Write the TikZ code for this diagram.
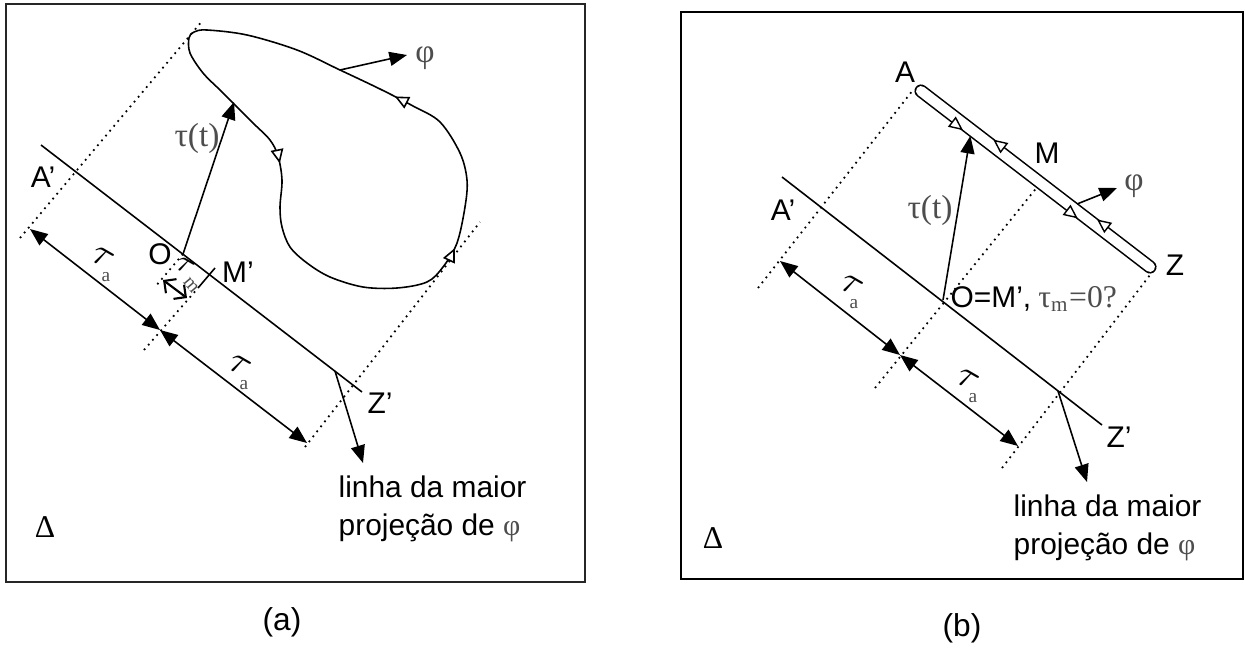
\documentclass[tikz,border=0pt]{standalone}
\usepackage{fontspec}
\setmainfont{Liberation Sans}
\newfontfamily\tms{Liberation Serif}
\usetikzlibrary{arrows.meta,calc,decorations.markings}
\definecolor{labelgray}{HTML}{4D4D4D}

\begin{document}
\begin{tikzpicture}[x=0.01cm,y=-0.01cm,font=\fontsize{8.5}{10.8}\selectfont,
    frame/.style={draw=black!85,line width=.6pt},
    axis/.style={line width=.45pt},
    proj/.style={line width=.5pt,dash pattern=on .5pt off 1.3pt},
    span/.style={line width=.45pt,{Triangle[length=5pt,width=4pt]}-{Triangle[length=5pt,width=4pt]}},
    vec/.style={line width=.45pt,-{Triangle[length=5pt,width=4pt]}},
    serif/.style={font=\fontsize{9.5}{10}\selectfont\tms,text=labelgray},
    dur/.style={inner sep=0pt,rotate=-30,font=\fontsize{10.5}{10}\selectfont},
    sub/.style={inner sep=0pt,font=\fontsize{5.5}{6}\selectfont\tms,text=labelgray},
    flowmarks/.style={decorate,decoration={markings,
        mark=at position #1 with {\arrow{Triangle[fill=white,length=4pt,width=3.6pt]}}}}]

  \useasboundingbox (0,0) rectangle (1245,648);

  % (a) closed trajectory
  \draw[frame] (6,4) rectangle (585,582);
  \draw[proj] (20,238) -- (203,20);
  \draw[proj] (144,350) -- (198,288);
  \draw[proj] (183,254) -- (155,287);
  \draw[proj] (305,447) -- (480,222);
  \coordinate (Aa1) at (41,145);
  \coordinate (Za1) at (362,392);
  \coordinate (Oa1) at (183,254);
  \coordinate (hita) at (234,102);
  \coordinate (phia0) at (340,70);
  \coordinate (zfa) at (335,371);
  \draw[axis] (Aa1) -- (Za1);
  \draw[axis] (198,288) -- (215,268);
  \draw[axis,postaction={flowmarks=.17},postaction={flowmarks=.50},postaction={flowmarks=.72}]
    plot[smooth cycle,tension=.55] coordinates {(189,38) (190,53) (203,73) (220,90) (233,103)
      (253,123) (270,140) (278,156) (282,180) (280,207) (282,227) (290,247) (307,263)
      (330,277) (363,287) (397,288) (427,282) (443,267) (457,243) (465,207) (467,180)
      (460,153) (440,122) (413,106) (380,89) (340,70) (297,50) (247,35) (207,30) (194,32)};
  \draw[vec] (Oa1) -- (hita);
  \draw[vec] (phia0) -- (407,55);
  \draw[vec] (zfa) -- (363,463);
  \draw[span] (30,229) -- (160,330);
  \draw[span] (160,330) -- (307,443);
  \draw[line width=.6pt,{Straight Barb[length=2.5pt]}-{Straight Barb[length=2.5pt]}] (163,280) -- (187,298);

  \node[serif] (phia) at (425,58) {φ};
  \node[serif] (tta) at (197,138) {τ(t)};
  \node (Aa) at (43,177) {A’};
  \node[inner sep=0pt] (Oa) at (160,254) {O};
  \node[anchor=west,inner sep=1pt] (Ma) at (218,272) {M’};
  \node (Za) at (380,403) {Z’};
  \node[dur] (taua1) at (103,258) {$\tau$};
  \node[sub] (taua1s) at (106,277) {a};
  \node[dur] (taua2) at (240,366) {$\tau$};
  \node[sub] (taua2s) at (244,385) {a};
  \node[dur,font=\fontsize{9}{9}\selectfont] (taum) at (185,266) {$\tau$};
  \node[sub,rotate=-50] (taums) at (191,285) {m};
  \node[align=left,anchor=west,inner sep=0pt] (capa) at (338,509) {linha da maior\\projeção de {\tms\color{labelgray}φ}};
  \node[font=\fontsize{9}{9}\selectfont\tms] (dela) at (45,527) {Δ};
  \node[font=\fontsize{9}{9}\selectfont] (laba) at (282,622) {(a)};

  % (b) degenerate trajectory
  \draw[frame,draw=black] (681,12) rectangle (1243,579);
  \draw[proj] (758,288) -- (913,90);
  \draw[proj] (875,388) -- (1038,186);
  \draw[proj] (1002,468) -- (1150,275);
  \coordinate (Ab1) at (782,177);
  \coordinate (Zb1) at (1102,425);
  \coordinate (Ob1) at (943,300);
  \coordinate (zfb) at (1058,391);
  \coordinate (C1) at (921,91);
  \coordinate (C2) at (1150,267);
  \coordinate (U1) at (924.3,86.6);
  \coordinate (U2) at (1153.3,262.6);
  \coordinate (L1) at (917.7,95.4);
  \coordinate (L2) at (1146.7,271.4);
  \draw[axis] (Ab1) -- (Zb1);
  \draw[line width=.45pt,double,double distance=.1cm,line cap=round] (C1) -- (C2);
  \path[flowmarks=.198] (L1) -- (L2);
  \path[flowmarks=.70] (L1) -- (L2);
  \path[flowmarks=.70] (U2) -- (U1);
  \path[flowmarks=.246] (U2) -- (U1);
  \coordinate (hitb) at ($(L1)!.23!(L2)$);
  \coordinate (phib0) at ($(U1)!.667!(U2)$);
  \draw[vec] (Ob1) -- (hitb);
  \draw[vec] (phib0) -- (1117,188);
  \draw[vec] (zfb) -- (1087,482);
  \draw[span] (780,261) -- (900,355);
  \draw[span] (900,355) -- (1018,446);

  \node (Ab) at (905,72) {A};
  \node (Zb) at (1175,265) {Z};
  \node (Mb) at (1047,153) {M};
  \node (Apb) at (783,210) {A’};
  \node (Zpb) at (1119,437) {Z’};
  \node[serif] (phib) at (1134,186) {φ};
  \node[serif] (ttb) at (930,210) {τ(t)};
  \node[anchor=west,inner sep=0pt] (Omb) at (950,299) {O=M’,\kern2pt{\tms\color{labelgray}\fontsize{9}{10}\selectfont τ\textsubscript{m}=0?}};
  \node[dur] (taub1) at (852,286) {$\tau$};
  \node[sub] (taub1s) at (854,304) {a};
  \node[dur] (taub2) at (968,380) {$\tau$};
  \node[sub] (taub2s) at (973,398) {a};
  \node[align=left,anchor=west,inner sep=0pt] (capb) at (1013,528) {linha da maior\\projeção de {\tms\color{labelgray}φ}};
  \node[font=\fontsize{9}{9}\selectfont\tms] (delb) at (713,538) {Δ};
  \node[font=\fontsize{9}{9}\selectfont] (labb) at (962,628) {(b)};
\end{tikzpicture}
\end{document}
